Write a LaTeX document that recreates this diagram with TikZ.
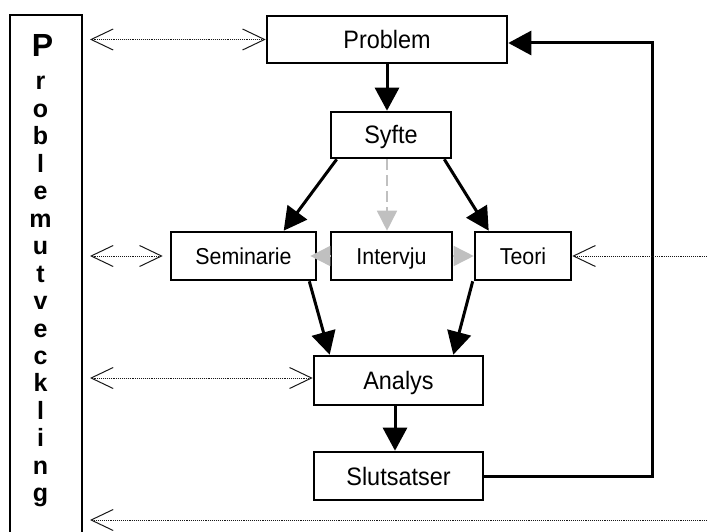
\documentclass[tikz,border=0pt]{standalone}
\usepackage{fontspec}
\setmainfont{Liberation Sans}
\newfontfamily\boxfont[FakeStretch=0.93]{Liberation Sans}
\usetikzlibrary{arrows.meta}
\definecolor{arrowgray}{RGB}{192,192,192}

\begin{document}
\begin{tikzpicture}[x=1pt,y=-1pt,
  box/.style={draw, line width=2.6pt, inner sep=0pt, text height=18pt, text depth=0pt,
    font=\boxfont\fontsize{25.2}{30}\selectfont},
  midbox/.style={box, text height=16.5pt, font=\boxfont\fontsize{23}{28}\selectfont},
  letter/.style={anchor=base, inner sep=0pt, font=\bfseries\fontsize{25}{25}\selectfont},
  flow/.style={line width=3pt, -{Triangle[length=23pt,width=24pt]}},
  grayflow/.style={arrowgray, line width=1.6pt, -{Triangle[length=20pt,width=20pt]}},
  dots/.style={black!90, line width=0.9pt, dash pattern=on 0.9pt off 1pt},
  vbarb/.tip={Straight Barb[length=22pt,width=21pt,line width=1pt]},
]
\useasboundingbox (0,0) rectangle (707,532);

% vertical label column
\draw[line width=2.6pt] (10,532) -- (10,15) -- (82,15) -- (82,532);
\node[letter, font=\bfseries\fontsize{32}{32}\selectfont] (LP) at (42.5,57) {P};
\foreach \ch [count=\i] in {r,o,b,l,e,m,u,t,v,e,c,k,l,i,n,g}
  \node[letter] (L\i) at (40.5,{90+(\i-1)*27.45}) {\ch};

% process boxes
\node[box, minimum width=240, minimum height=47] (Problem) at (387,39.5) {Problem};
\node[box, minimum width=120, minimum height=46] (Syfte) at (391,135) {Syfte};
\node[midbox, minimum width=145, minimum height=48] (Seminarie) at (243.5,256) {Seminarie};
\node[midbox, minimum width=121, minimum height=48] (Intervju) at (391.5,256) {Intervju};
\node[midbox, minimum width=96, minimum height=48] (Teori) at (523,256) {Teori};
\node[box, minimum width=169, minimum height=49] (Analys) at (398.5,380.5) {Analys};
\node[box, minimum width=169, minimum height=48] (Slutsatser) at (398.5,476) {Slutsatser};

% main flow
\draw[flow] (Problem.south) -- (Problem.south |- Syfte.north);
\draw[flow] ([xshift=7]Syfte.south west) -- ([xshift=114]Seminarie.north west);
\draw[flow] ([xshift=-8]Syfte.south east) -- ([xshift=15]Teori.north west);
\draw[flow] ([xshift=-8]Seminarie.south east) -- ([xshift=17]Analys.north west);
\draw[flow] ([xshift=-1]Teori.south west) -- ([xshift=-31]Analys.north east);
\draw[flow] ([xshift=-3.5]Analys.south) -- ([xshift=-3.5]Slutsatser.north);
\coordinate (fb) at (652,43);
\draw[flow] (Slutsatser.east) -| (fb) -- (Problem.east |- fb);

% interview links
\draw[grayflow, dash pattern=on 11pt off 5pt] ([xshift=-4]Syfte.south) -- ([xshift=-4.5]Intervju.north);
\draw[grayflow] (Intervju.west) -- ([xshift=-7]Seminarie.east);
\draw[grayflow] (Intervju.east) -- (Teori.west);

% dotted links to the label column
\coordinate (cA) at (90,39.5);
\coordinate (cB) at (90,256);
\coordinate (cC) at (90,378);
\coordinate (cD) at (707,256);
\coordinate (cE) at (707,520);
\coordinate (cF) at (90,520);
\draw[dots, vbarb-vbarb] (cA) -- (Problem.west);
\draw[dots, vbarb-vbarb] (cB) -- ([xshift=-7]Seminarie.west);
\draw[dots, vbarb-vbarb] (cC) -- (Analys.west |- cC);
\draw[dots, -vbarb] (cD) -- (Teori.east);
\draw[dots, -vbarb] (cE) -- (cF);
\end{tikzpicture}
\end{document}
